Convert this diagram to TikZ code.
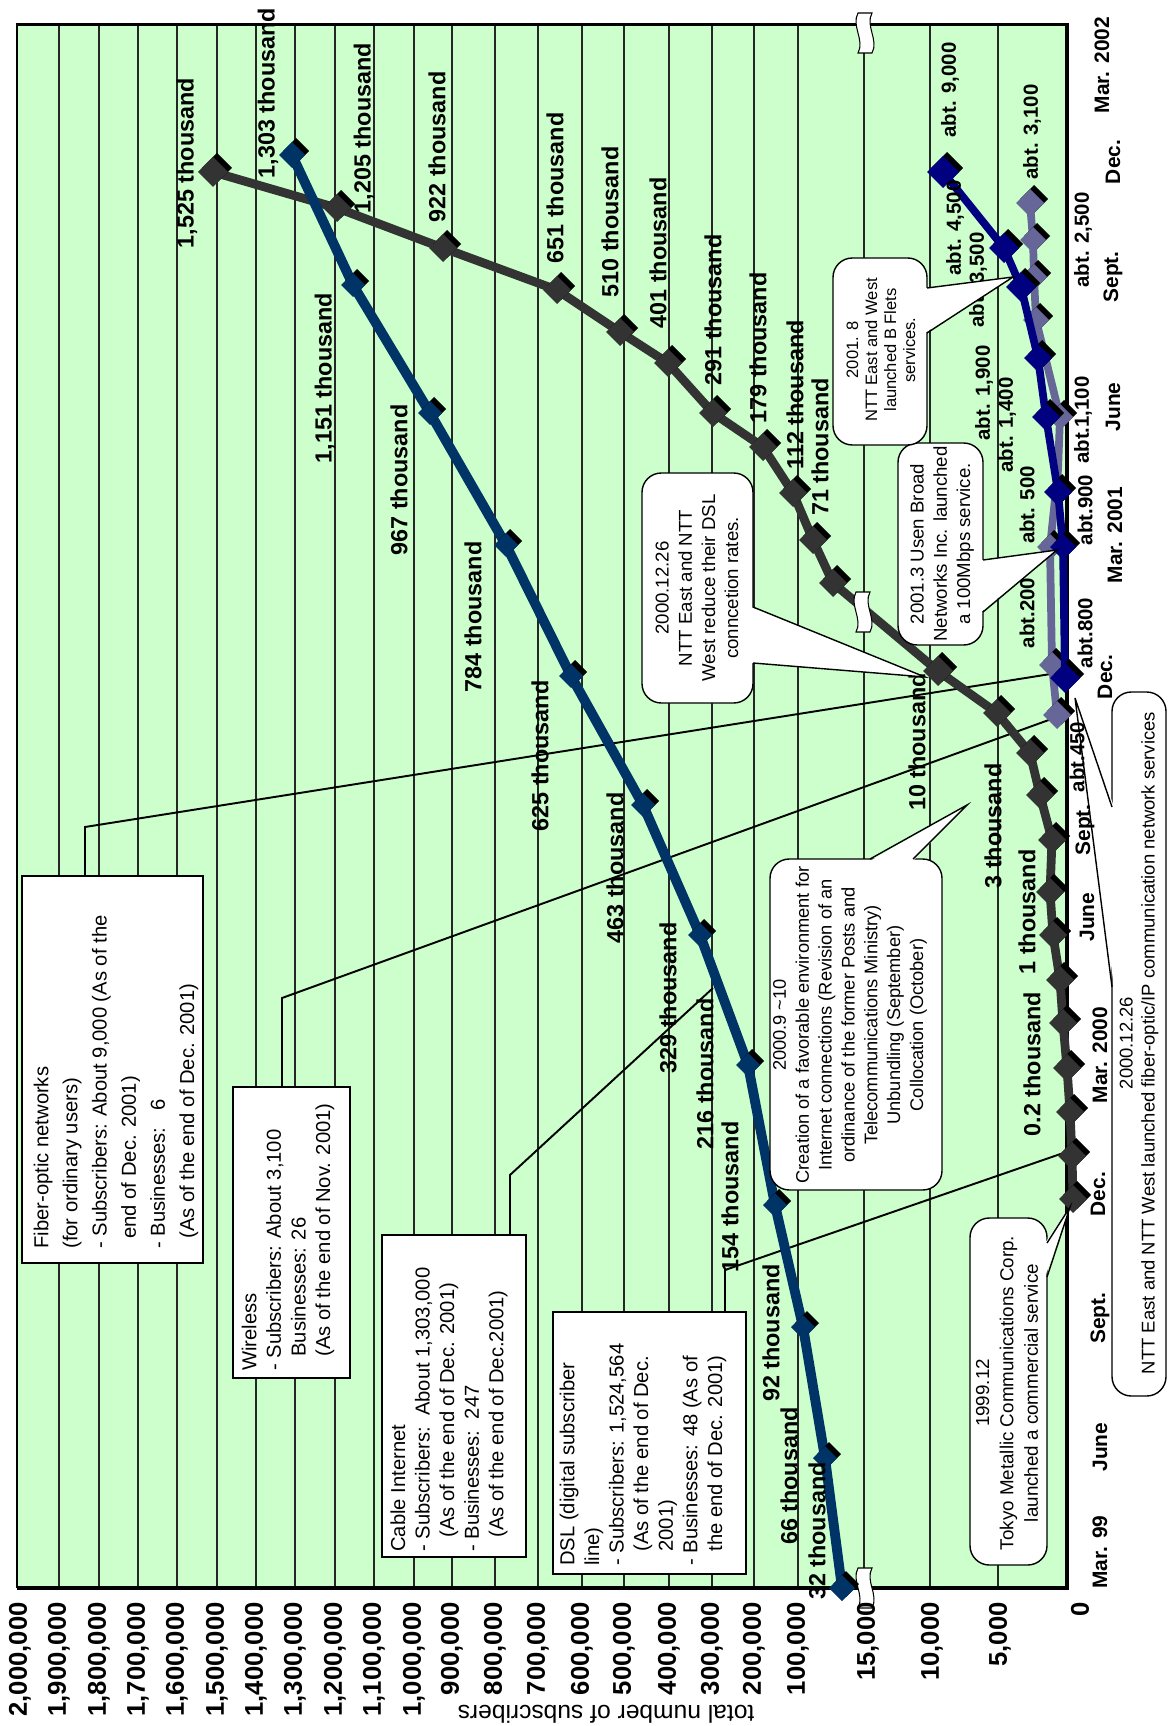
\documentclass[tikz,border=0pt]{standalone}
\usepackage{fontspec}
\setmainfont{Liberation Sans}
\usetikzlibrary{calc}
\definecolor{plotgreen}{HTML}{CCFFCC}
\definecolor{dslgrey}{HTML}{333333}
\definecolor{cableblue}{HTML}{003366}
\definecolor{fibernavy}{HTML}{000080}
\definecolor{wirelessgrey}{HTML}{666699}
\def\dmd[#1](#2)(#3){\fill[black] ($(#2)+(4,-4)$) +(-#3,0) -- +(0,-#3) -- +(#3,0) -- +(0,#3) -- cycle;
  \fill[#1] (#2) +(-#3,0) -- +(0,-#3) -- +(#3,0) -- +(0,#3) -- cycle;}
\def\brk(#1,#2){\draw[fill=white,line width=0.6pt] (#1-7,#2-20) .. controls (#1-14,#2-7) and (#1,#2+7) .. (#1-7,#2+20) -- (#1+7,#2+20) .. controls (#1+14,#2+7) and (#1,#2-7) .. (#1+7,#2-20) -- cycle;}
\tikzset{
  gridline/.style={line width=0.6pt, black!85},
  conn/.style={line width=1.1pt},
  dslline/.style={dslgrey, line width=5pt, line join=round},
  cableline/.style={cableblue, line width=5.6pt, line join=round},
  fiberline/.style={fibernavy, line width=4.4pt, line join=round},
  wireline/.style={wirelessgrey, line width=4.4pt, line join=round},
  infobox/.style={fill=white, draw=black, line width=1.2pt},
  callbox/.style={fill=white, draw=black, line width=0.8pt, rounded corners=11pt},
  dlab/.style={rotate=90, inner sep=0pt, font=\bfseries\fontsize{13.3}{15}\selectfont},
  alab/.style={rotate=90, inner sep=0pt, font=\bfseries\fontsize{11.6}{13}\selectfont},
  tlab/.style={rotate=90, inner sep=0pt, font=\bfseries\fontsize{11.9}{13}\selectfont},
  vlab/.style={rotate=90, anchor=east, inner sep=0pt, font=\bfseries\fontsize{14.6}{16}\selectfont},
  boxtext/.style={rotate=90, anchor=west, inner sep=0pt, align=left, font=\fontsize{11.5}{14}\selectfont},
  calltext/.style={rotate=90, inner sep=0pt, align=center, font=\fontsize{10.6}{13.2}\selectfont}
}
\begin{document}
\begin{tikzpicture}[x=0.02cm, y=-0.02cm]
\useasboundingbox (0,0) rectangle (1171,1726);
%%%%% START %%%%%
\fill[plotgreen] (17,25) rectangle (1067,1588);
\draw[gridline] (59,25) -- (59,1588) (99,25) -- (99,1588) (138,25) -- (138,1588) (177,25) -- (177,1588)
  (217,25) -- (217,1588) (256,25) -- (256,1588) (295,25) -- (295,1588) (335,25) -- (335,1588)
  (374,25) -- (374,1588) (414,25) -- (414,1588) (452,25) -- (452,1588) (495,25) -- (495,1588)
  (538,25) -- (538,1588) (582,25) -- (582,1588) (624,25) -- (624,1588) (669,25) -- (669,1588)
  (712,25) -- (712,1588) (754,25) -- (754,1588) (798,25) -- (798,1588) (864,25) -- (864,1588)
  (930,25) -- (930,1588) (998,25) -- (998,1588);
\draw[line width=1.7pt] (1067,25) -- (17,25) -- (17,1588);
\draw[line width=2.8pt] (17,1588) -- (1067,1588) -- (1067,23);
\brk(865,33)
\brk(865,1588)

% connectors from the boxes
\coordinate (fibfoot) at (85,876);
\coordinate (fibtip) at (1057,673);
\coordinate (wirefoot) at (282,1087);
\coordinate (wiretip) at (1057,717);
\coordinate (cabfoot) at (510,1235);
\coordinate (cabtip) at (713,988);
\coordinate (dslfoot) at (725,1312);
\coordinate (dsltip) at (1072,1150);
\draw[conn] (fibfoot) -- ++(0,-49) -- (fibtip);
\draw[conn] (wirefoot) -- ++(0,-89) -- (wiretip);
\draw[conn] (cabfoot) -- ++(0,-60) -- (cabtip);
\draw[conn] (dslfoot) -- ++(0,-42) -- (dsltip);

% DSL
\draw[dslline] (1073,1199) -- (1072,1156) -- (1070,1112) -- (1067,1068) -- (1063,1023) -- (1060,980)
  -- (1053,935) -- (1050,892) -- (1052,840) -- (1040,795) -- (1030,753) -- (997,713) -- (938,671)
  -- (833,583) -- (813,540) -- (793,493) -- (763,447) -- (713,413) -- (668,363) -- (620,332)
  -- (557,290) -- (443,248) -- (337,208) -- (213,172);
\dmd[dslgrey](1073,1199)(14) \dmd[dslgrey](1072,1156)(14) \dmd[dslgrey](1070,1112)(14)
\dmd[dslgrey](1067,1068)(14) \dmd[dslgrey](1063,1023)(14) \dmd[dslgrey](1060,980)(14)
\dmd[dslgrey](1053,935)(14) \dmd[dslgrey](1050,892)(14) \dmd[dslgrey](1052,840)(14)
\dmd[dslgrey](1040,795)(14) \dmd[dslgrey](1030,753)(14) \dmd[dslgrey](997,713)(14)
\dmd[dslgrey](938,671)(15) \dmd[dslgrey](833,583)(14) \dmd[dslgrey](813,540)(14)
\dmd[dslgrey](793,493)(14) \dmd[dslgrey](763,447)(14) \dmd[dslgrey](713,413)(14)
\dmd[dslgrey](668,363)(14) \dmd[dslgrey](620,332)(14) \dmd[dslgrey](557,290)(14)
\dmd[dslgrey](443,248)(14) \dmd[dslgrey](337,208)(14) \dmd[dslgrey](213,172)(15)
\brk(863,612)

% cable
\draw[cableline] (842,1588) -- (825,1458) -- (803,1327) -- (775,1205) -- (748,1065) -- (700,935)
  -- (643,805) -- (571,676) -- (506,545) -- (430,413) -- (353,285) -- (292,155);
\dmd[cableblue](842,1588)(13) \dmd[cableblue](825,1458)(12) \dmd[cableblue](803,1327)(12)
\dmd[cableblue](775,1205)(12) \dmd[cableblue](748,1065)(12) \dmd[cableblue](700,935)(12)
\dmd[cableblue](643,805)(12) \dmd[cableblue](571,676)(12) \dmd[cableblue](506,545)(12)
\dmd[cableblue](430,413)(12) \dmd[cableblue](353,285)(12) \dmd[cableblue](292,155)(13)

% wireless
\draw[wireline] (1057,715) -- (1052,665) -- (1050,547) -- (1058,470) -- (1060,417) -- (1036,320)
  -- (1034,277) -- (1033,240) -- (1030,203);
\dmd[wirelessgrey](1057,715)(14) \dmd[wirelessgrey](1052,665)(13) \dmd[wirelessgrey](1050,547)(13)
\dmd[wirelessgrey](1060,417)(13) \dmd[wirelessgrey](1036,320)(13) \dmd[wirelessgrey](1034,277)(13)
\dmd[wirelessgrey](1033,240)(13) \dmd[wirelessgrey](1030,203)(14)

% fiber
\draw[fiberline] (1065,678) -- (1063,547) -- (1058,492) -- (1046,417) -- (1038,358) -- (1021,287)
  -- (1004,248) -- (943,172);
\dmd[fibernavy](1065,678)(15) \dmd[fibernavy](1063,547)(13) \dmd[fibernavy](1058,492)(14)
\dmd[fibernavy](1046,417)(14) \dmd[fibernavy](1038,358)(14) \dmd[fibernavy](1021,287)(15)
\dmd[fibernavy](1004,248)(15) \dmd[fibernavy](943,172)(16)

% data labels
\node[dlab] (d1525) at (187,163) {1,525 thousand};
\node[dlab] (d1205) at (364,128) {1,205 thousand};
\node[dlab] (d922) at (437,147) {922 thousand};
\node[dlab] (d651) at (555,188) {651 thousand};
\node[dlab] (d510) at (610,222) {510 thousand};
\node[dlab] (d401) at (658,253) {401 thousand};
\node[dlab] (d291) at (713,310) {291 thousand};
\node[dlab] (d179) at (758,348) {179 thousand};
\node[dlab] (d112) at (795,395) {112 thousand};
\node[dlab] (d71) at (820,447) {71 thousand};
\node[dlab] (d10) at (917,742) {10 thousand};
\node[dlab] (d3) at (993,826) {3 thousand};
\node[dlab] (d1) at (1027,912) {1 thousand};
\node[dlab] (d02) at (1032,1064) {0.2 thousand};
\node[dlab] (c1303) at (268,93) {1,303 thousand};
\node[dlab] (c1151) at (325,378) {1,151 thousand};
\node[dlab] (c967) at (399,480) {967 thousand};
\node[dlab] (c784) at (473,617) {784 thousand};
\node[dlab] (c625) at (540,756) {625 thousand};
\node[dlab] (c463) at (615,868) {463 thousand};
\node[dlab] (c329) at (668,998) {329 thousand};
\node[dlab] (c216) at (705,1074) {216 thousand};
\node[dlab] (c154) at (730,1197) {154 thousand};
\node[dlab] (c92) at (771,1333) {92 thousand};
\node[dlab] (c66) at (789,1476) {66 thousand};
\node[dlab] (c32) at (817,1531) {32 thousand};
\node[alab] (f9000) at (950,90) {abt. 9,000};
\node[alab] (w3100) at (1032,132) {abt. 3,100};
\node[alab] (f4500) at (955,228) {abt. 4,500};
\node[alab] (w2500) at (1083,240) {abt. 2,500};
\node[alab] (f3500) at (978,280) {abt. 3,500};
\node[alab] (f1900) at (984,393) {abt. 1,900};
\node[alab] (w1400) at (1007,425) {abt. 1,400};
\node[alab] (f1100) at (1083,420) {abt.1,100};
\node[alab] (w500) at (1027,505) {abt. 500};
\node[alab] (f900) at (1085,510) {abt.900};
\node[alab] (w200) at (1027,613) {abt.200};

% boxes
\draw[infobox] (22,876) rectangle (203,1263);
\node[boxtext, font=\fontsize{11.5}{16.6}\selectfont] (fibtext) at (116,1249) {Fiber-optic networks\\(for ordinary users)\\- Subscribers: About 9,000 (As of the\\\hspace*{0.5em}end of Dec. 2001)\\- Businesses:\ \ \ 6\\\hspace*{0.5em}(As of the end of Dec. 2001)};
\draw[infobox] (233,1087) rectangle (350,1378);
\node[boxtext] (wiretext) at (288,1371) {Wireless\\- Subscribers: About 3,100\\\hspace*{0.7em}Businesses: 26\\\hspace*{0.7em}(As of the end of Nov. 2001)};
\draw[infobox] (382,1235) rectangle (526,1557);
\node[boxtext] (cabtext) at (449,1552) {Cable Internet\\- Subscribers:\ \ About 1,303,000\\\hspace*{0.7em}(As of the end of Dec. 2001)\\- Businesses:\ \ 247\\\hspace*{0.7em}(As of the end of Dec.2001)};
\draw[infobox] (553,1312) rectangle (746,1574);
\node[boxtext] (dsltext) at (643,1566) {DSL (digital subscriber\\line)\\- Subscribers: 1,524,564\\\hspace*{0.7em}(As of the end of Dec.\\\hspace*{0.7em}2001)\\- Businesses: 48 (As of\\\hspace*{0.7em}the end of Dec. 2001)};

% callouts
\draw[callbox] (642,473) rectangle (753,703);
\fill[white] (751,607) -- (925,677) -- (751,663) -- cycle;
\draw[line width=0.8pt] (753,607) -- (925,677) -- (753,663);
\node[calltext] (ratestext) at (697,588) {2000.12.26\\NTT East and NTT\\West reduce their DSL\\conncetion rates.};
\draw[callbox] (898,443) rectangle (983,645);
\fill[white] (981,560) -- (1057,550) -- (981,612) -- cycle;
\draw[line width=0.8pt] (983,560) -- (1057,550) -- (983,612);
\node[calltext] (usentext) at (942,544) {2001.3 Usen Broad\\Networks Inc. launched\\a 100Mbps service.};
\draw[callbox] (833,258) rectangle (927,445);
\fill[white] (925,288) -- (1013,277) -- (925,333) -- cycle;
\draw[line width=0.8pt] (927,288) -- (1013,277) -- (927,333);
\node[calltext, font=\fontsize{9.4}{10.8}\selectfont] (fletstext) at (881,350) {2001. 8\\NTT East and West\\launched B Flets\\services.};
\draw[callbox] (770,859) rectangle (942,1190);
\fill[white] (870,861) -- (967,805) -- (913,861) -- cycle;
\draw[line width=0.8pt] (870,859) -- (967,805) -- (913,859);
\node[calltext, font=\fontsize{10.4}{13}\selectfont] (unbundtext) at (850,1025) {2000.9 \textasciitilde10\\Creation of a favorable environment for\\Internet connections (Revision of an\\ordinance of the former Posts and\\Telecommunications Ministry)\\Unbundling (September)\\Collocation (October)};
\draw[callbox] (970,1218) rectangle (1047,1565);
\fill[white] (1045,1243) -- (1070,1207) -- (1045,1277) -- cycle;
\draw[line width=0.8pt] (1047,1243) -- (1070,1207) -- (1047,1277);
\node[calltext, font=\fontsize{10.7}{13.9}\selectfont] (tokyotext) at (1007,1393) {1999.12\\Tokyo Metallic Communications Corp.\\launched a commercial service};
\draw[callbox] (1112,692) rectangle (1166,1396);
\fill[white] (1114,807) -- (1075,698) -- (1114,987) -- cycle;
\draw[line width=0.8pt] (1112,807) -- (1075,698) -- (1112,987);
\node[calltext, font=\fontsize{10.5}{12.5}\selectfont] (ftthtext) at (1139,1043) {2000.12.26\\NTT East and NTT West launched fiber-optic/IP communication network services};

% labels beside the axes
\node[alab] (w800) at (1085,633) {abt.800};
\node[alab] (w450) at (1077,757) {abt.450};
\node[tlab] (t1) at (1102,65) {Mar. 2002};
\node[tlab] (t2) at (1113,162) {Dec.};
\node[tlab] (t3) at (1113,277) {Sept.};
\node[tlab] (t4) at (1113,407) {June};
\node[tlab] (t5) at (1115,535) {Mar. 2001};
\node[tlab] (t6) at (1105,677) {Dec.};
\node[tlab] (t7) at (1085,830) {Sept.};
\node[tlab] (t8) at (1087,917) {June};
\node[tlab] (t9) at (1100,1055) {Mar. 2000};
\node[tlab] (t10) at (1098,1194) {Dec.};
\node[tlab] (t11) at (1100,1318) {Sept.};
\node[tlab] (t12) at (1100,1447) {June};
\node[tlab] (t13) at (1100,1552) {Mar. 99};
\node[vlab] (v1) at (20,1602) {2,000,000};
\node[vlab] (v2) at (59,1602) {1,900,000};
\node[vlab] (v3) at (99,1602) {1,800,000};
\node[vlab] (v4) at (138,1602) {1,700,000};
\node[vlab] (v5) at (177,1602) {1,600,000};
\node[vlab] (v6) at (217,1602) {1,500,000};
\node[vlab] (v7) at (256,1602) {1,400,000};
\node[vlab] (v8) at (295,1602) {1,300,000};
\node[vlab] (v9) at (335,1602) {1,200,000};
\node[vlab] (v10) at (374,1602) {1,100,000};
\node[vlab] (v11) at (414,1602) {1,000,000};
\node[vlab] (v12) at (452,1602) {900,000};
\node[vlab] (v13) at (495,1602) {800,000};
\node[vlab] (v14) at (538,1602) {700,000};
\node[vlab] (v15) at (582,1602) {600,000};
\node[vlab] (v16) at (624,1602) {500,000};
\node[vlab] (v17) at (669,1602) {400,000};
\node[vlab] (v18) at (712,1602) {300,000};
\node[vlab] (v19) at (754,1602) {200,000};
\node[vlab] (v20) at (798,1602) {100,000};
\node[vlab] (v21) at (868,1602) {15,000};
\node[vlab] (v22) at (932,1602) {10,000};
\node[vlab] (v23) at (1000,1602) {5,000};
\node[vlab] (v24) at (1080,1602) {0};
\node[rotate=180, inner sep=0pt, font=\fontsize{14}{16}\selectfont] (ytitle) at (606,1714) {total number of subscribers};
%%%%% END %%%%%
\end{tikzpicture}
\end{document}
